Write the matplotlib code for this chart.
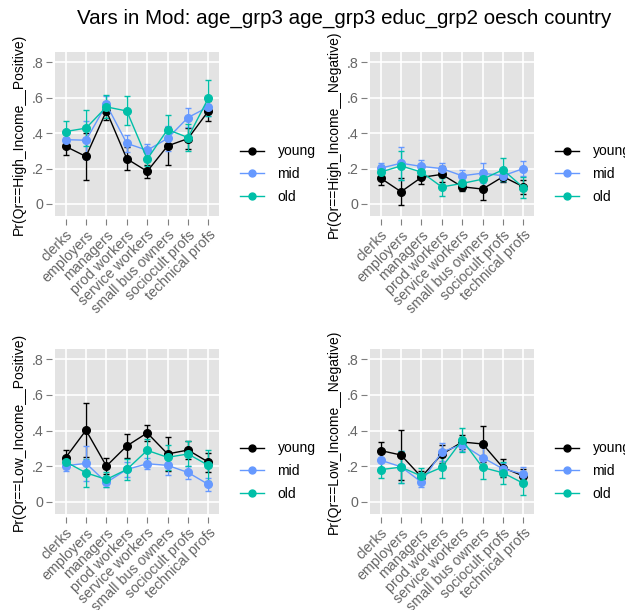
import matplotlib.pyplot as plt
from matplotlib.lines import Line2D
import numpy as np

occupations = ['clerks', 'employers', 'managers', 'prod workers', 'service workers',
               'small bus owners', 'sociocult profs', 'technical profs']
groups = ['young', 'mid', 'old']
colors = ['#000000', '#6699FF', '#00BFA8']

outcomes = ['High_Income__Positive', 'High_Income__Negative',
            'Low_Income__Positive', 'Low_Income__Negative']

# predicted probabilities, one list per age group
hi_pos = {
    'young': [0.325, 0.268, 0.525, 0.255, 0.184, 0.328, 0.369, 0.525],
    'mid':   [0.363, 0.360, 0.562, 0.342, 0.303, 0.370, 0.488, 0.548],
    'old':   [0.409, 0.428, 0.548, 0.525, 0.253, 0.420, 0.375, 0.598],
}
hi_pos_err = {
    'young': [0.047, 0.130, 0.050, 0.064, 0.035, 0.107, 0.060, 0.058],
    'mid':   [0.030, 0.108, 0.045, 0.048, 0.038, 0.070, 0.053, 0.050],
    'old':   [0.058, 0.100, 0.065, 0.082, 0.038, 0.082, 0.075, 0.102],
}
hi_neg = {
    'young': [0.146, 0.069, 0.150, 0.167, 0.097, 0.084, 0.154, 0.097],
    'mid':   [0.202, 0.230, 0.212, 0.200, 0.159, 0.174, 0.159, 0.200],
    'old':   [0.180, 0.215, 0.180, 0.096, 0.116, 0.140, 0.193, 0.092],
}
hi_neg_err = {
    'young': [0.037, 0.077, 0.040, 0.045, 0.025, 0.060, 0.030, 0.040],
    'mid':   [0.030, 0.094, 0.034, 0.034, 0.031, 0.056, 0.030, 0.042],
    'old':   [0.040, 0.082, 0.035, 0.050, 0.040, 0.050, 0.065, 0.060],
}
lo_pos = {
    'young': [0.248, 0.402, 0.201, 0.314, 0.387, 0.269, 0.291, 0.223],
    'mid':   [0.203, 0.216, 0.109, 0.182, 0.214, 0.205, 0.165, 0.098],
    'old':   [0.225, 0.163, 0.126, 0.182, 0.289, 0.250, 0.269, 0.205],
}
lo_pos_err = {
    'young': [0.042, 0.152, 0.043, 0.066, 0.045, 0.095, 0.051, 0.053],
    'mid':   [0.030, 0.100, 0.025, 0.040, 0.030, 0.055, 0.035, 0.035],
    'old':   [0.030, 0.080, 0.040, 0.057, 0.066, 0.070, 0.070, 0.086],
}
lo_neg = {
    'young': [0.288, 0.263, 0.140, 0.267, 0.336, 0.325, 0.192, 0.145],
    'mid':   [0.234, 0.197, 0.111, 0.280, 0.322, 0.249, 0.185, 0.157],
    'old':   [0.181, 0.195, 0.145, 0.194, 0.347, 0.193, 0.163, 0.104],
}
lo_neg_err = {
    'young': [0.048, 0.142, 0.035, 0.050, 0.040, 0.100, 0.050, 0.040],
    'mid':   [0.040, 0.090, 0.025, 0.048, 0.035, 0.060, 0.035, 0.040],
    'old':   [0.047, 0.090, 0.045, 0.060, 0.065, 0.065, 0.062, 0.065],
}

panels = [(hi_pos, hi_pos_err), (hi_neg, hi_neg_err),
          (lo_pos, lo_pos_err), (lo_neg, lo_neg_err)]

plt.rcParams['font.family'] = ['Liberation Sans', 'DejaVu Sans']

W, H = 625, 610
fig = plt.figure(figsize=(W / 100, H / 100), dpi=100)

# panel boxes in pixels: left, top, right, bottom
boxes = [(55, 52, 219, 216), (370, 52, 534, 216),
         (55, 349, 219, 514), (370, 349, 534, 514)]

x = np.arange(1, len(occupations) + 1)

for (vals, errs), name, (l, t, r, b) in zip(panels, outcomes, boxes):
    ax = fig.add_axes([l / W, 1 - b / H, (r - l) / W, (b - t) / H])
    ax.set_facecolor('#E3E3E3')
    for g, c in zip(groups, colors):
        ax.errorbar(x, vals[g], yerr=errs[g], color=c, marker='o', markersize=5.5,
                    linewidth=1, elinewidth=1, capsize=2.5, capthick=1)
    ax.set_xlim(0.48, 8.52)
    ax.set_ylim(-0.068, 0.858)
    ax.grid(True, color='white', linewidth=1.2)
    ax.set_axisbelow(True)
    for s in ax.spines.values():
        s.set_visible(False)
    ax.spines['left'].set_position(('outward', 2))
    ax.spines['bottom'].set_position(('outward', 2))
    ax.tick_params(colors='#7F7F7F', labelcolor='#666666', labelsize=10.3,
                   length=4, width=0.8, pad=2.5)
    ax.set_yticks([0, 0.2, 0.4, 0.6, 0.8])
    ax.set_yticklabels(['0', '.2', '.4', '.6', '.8'])
    ax.set_xticks(x)
    ax.set_xticklabels(occupations, rotation=45, ha='right', rotation_mode='anchor')
    ax.set_ylabel(f'Pr(Qr=={name})', fontsize=10, labelpad=4)

    handles = [Line2D([], [], color=c, marker='o', markersize=5, linewidth=1)
               for c in colors]
    ax.legend(handles, groups, loc='center left',
              bbox_to_anchor=((r + 14) / W, 1 - (t + 122) / H),
              bbox_transform=fig.transFigure, frameon=False, borderpad=0,
              fontsize=10, handlelength=1.75, labelspacing=0.62, handletextpad=0.95)

fig.text(0.551, 1 - 18 / H, 'Vars in Mod: age_grp3 age_grp3 educ_grp2 oesch country',
         ha='center', va='center', fontsize=14.8)

fig.savefig('out.png', dpi=100)
